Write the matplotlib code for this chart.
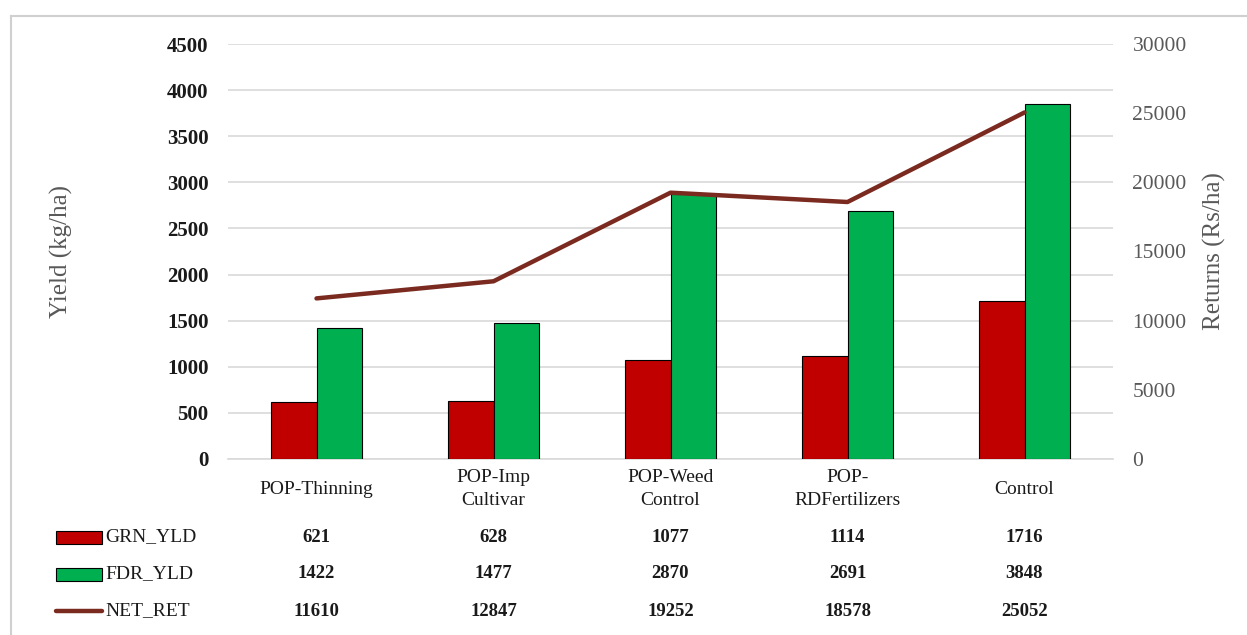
import numpy as np
import matplotlib
matplotlib.use('Agg')
import matplotlib.pyplot as plt
from matplotlib.lines import Line2D
from matplotlib.patches import Rectangle
from matplotlib.transforms import blended_transform_factory

categories = ['POP-Thinning', 'POP-Imp\nCultivar', 'POP-Weed\nControl', 'POP-\nRDFertilizers', 'Control']
grn_yld = [621, 628, 1077, 1114, 1716]
fdr_yld = [1422, 1477, 2870, 2691, 3848]
net_ret = [11610, 12847, 19252, 18578, 25052]
series_names = ['GRN_YLD', 'FDR_YLD', 'NET_RET']

red = '#C00000'
green = '#00B050'
brown = '#7B2A20'
plt.rcParams['font.family'] = 'Liberation Serif'

W, H = 1247, 635
fig = plt.figure(figsize=(W / 100, H / 100), dpi=100)
ax = fig.add_axes([228 / W, 1 - 459 / H, (1113 - 228) / W, 415 / H])
ax2 = ax.twinx()

x = np.arange(len(categories))
bw = 0.255
ax.bar(x - bw / 2, grn_yld, bw, color=red, edgecolor='black', linewidth=0.8, zorder=3)
ax.bar(x + bw / 2, fdr_yld, bw, color=green, edgecolor='black', linewidth=0.8, zorder=3)
ax2.plot(x, net_ret, color=brown, linewidth=3.2, solid_capstyle='round', zorder=4)

ax.set_xlim(-0.5, len(categories) - 0.5)
ax.set_ylim(0, 4500)
ax.set_yticks(np.arange(0, 4501, 500))
ax2.set_ylim(0, 30000)
ax2.set_yticks(np.arange(0, 30001, 5000))

ax.grid(axis='y', color='#D9D9D9', linewidth=1.2, zorder=0)
ax.set_axisbelow(True)
for a in (ax, ax2):
    for s in a.spines.values():
        s.set_visible(False)
ax.spines['bottom'].set_visible(True)
ax.spines['bottom'].set_color('#D9D9D9')
ax.spines['bottom'].set_linewidth(1.2)

ax.tick_params(axis='y', length=0, pad=14, labelsize=15, labelcolor='#1a1a1a')
for t in ax.get_yticklabels():
    t.set_fontweight('bold')
ax2.tick_params(axis='y', length=0, pad=14, labelsize=15.5, labelcolor='#595959')
ax.set_xticks([])

# category labels centred in the space under the axis
tr = blended_transform_factory(ax.transData, fig.transFigure)
for xi, c in zip(x, categories):
    ax.text(xi, 1 - 489 / H, c, transform=tr, ha='center', va='center',
            fontsize=14, linespacing=1.5, color='#1a1a1a')

ax.set_ylabel('Yield (kg/ha)', fontsize=18, color='#595959')
ax.yaxis.set_label_coords((73 - 228) / 885, 0.5)
ax2.set_ylabel('Returns (Rs/ha)', fontsize=18, color='#595959')
ax2.yaxis.set_label_coords((1203 - 228) / 885, 0.5)

# data table below the chart
rows = [grn_yld, fdr_yld, net_ret]
row_y = [537, 574, 611]
for vals, ry in zip(rows, row_y):
    for xi, v in zip(x, vals):
        ax.text(xi, 1 - ry / H, str(v), transform=tr, ha='center', va='center',
                fontsize=13.5, fontweight='bold', color='#1a1a1a')

key_colors = [red, green]
for i, name in enumerate(series_names):
    yc = 1 - row_y[i] / H
    if i < 2:
        fig.patches.append(Rectangle((56 / W, yc - 6.5 / H), 46 / W, 13 / H,
                                     facecolor=key_colors[i], edgecolor='black', linewidth=0.8,
                                     transform=fig.transFigure, figure=fig))
    else:
        fig.lines.append(Line2D([56 / W, 102 / W], [yc, yc], color=brown, linewidth=3.2,
                                solid_capstyle='round', transform=fig.transFigure, figure=fig))
    fig.text(105 / W, yc, name, ha='left', va='center', fontsize=14, color='#1a1a1a')

# outer chart border (top and left visible)
fig.lines.append(Line2D([11 / W, 11 / W], [0, 1 - 16 / H], color='#D0D0D0', linewidth=1.5,
                        transform=fig.transFigure, figure=fig))
fig.lines.append(Line2D([11 / W, 1], [1 - 16 / H, 1 - 16 / H], color='#D0D0D0', linewidth=1.5,
                        transform=fig.transFigure, figure=fig))

fig.savefig('out.png', dpi=100)
